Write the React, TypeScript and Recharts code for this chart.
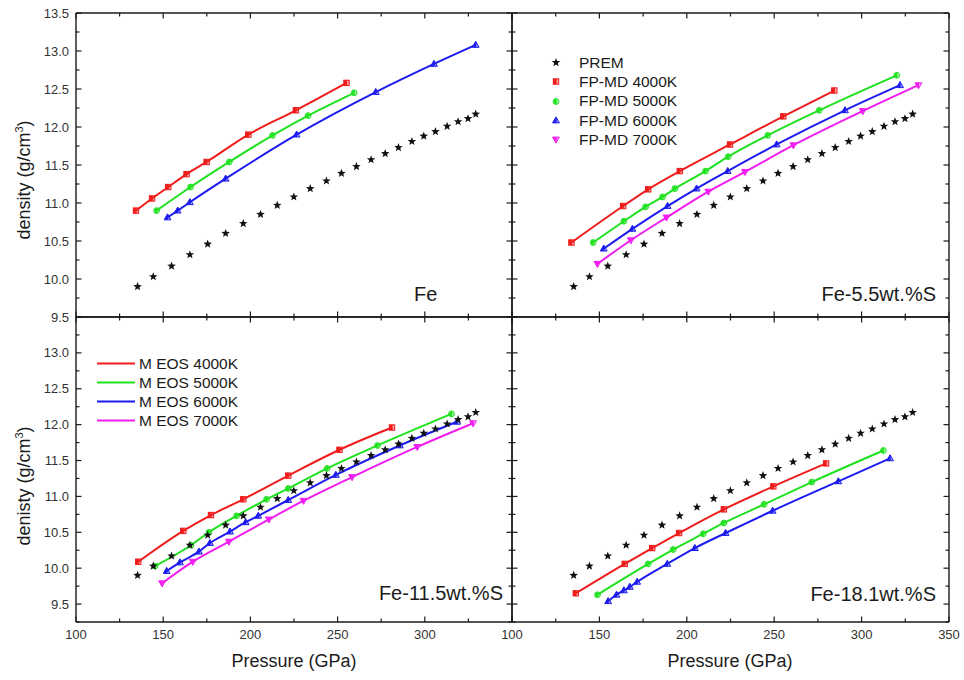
import React from 'react';
import { ComposedChart, Line, XAxis, YAxis, Legend, Customized } from 'recharts';

const W = 964;
const H = 680;
const FONT = '"Liberation Sans", Arial, Helvetica, sans-serif';
const INK = '#1b1b1b';

const RED = '#f01c1c';
const GREEN = '#1ee21e';
const BLUE = '#1c1cf0';
const MAGENTA = '#f01cf0';

// axes
const xTicks = [100, 125, 150, 175, 200, 225, 250, 275, 300, 325, 350];
const yTicksTop = [9.5, 9.75, 10, 10.25, 10.5, 10.75, 11, 11.25, 11.5, 11.75, 12, 12.25, 12.5, 12.75, 13, 13.25, 13.5];
const yTicksBottom = [9.25, 9.5, 9.75, 10, 10.25, 10.5, 10.75, 11, 11.25, 11.5, 11.75, 12, 12.25, 12.5, 12.75, 13, 13.25, 13.5];

// PREM outer core (same in every panel)
const premP = [135.3, 144.3, 154.8, 165.3, 175.5, 185.8, 195.9, 205.8, 215.4, 224.9, 234.3, 243.6, 252.2, 260.8, 269.2, 277.3, 284.9, 292.6, 299.4, 306.1, 312.8, 319.1, 324.8, 329.2];
const premD = [9.9, 10.03, 10.17, 10.32, 10.46, 10.6, 10.73, 10.85, 10.97, 11.08, 11.19, 11.29, 11.39, 11.48, 11.57, 11.65, 11.73, 11.81, 11.88, 11.94, 12.01, 12.07, 12.11, 12.17];

// Fe
const fe4000P = [134.4, 143.6, 152.9, 163.4, 174.9, 198.8, 226.1, 255.1];
const fe4000D = [10.9, 11.06, 11.21, 11.38, 11.54, 11.9, 12.22, 12.58];
const fe5000P = [146.2, 165.7, 187.9, 212.7, 233.1, 259.5];
const fe5000D = [10.9, 11.21, 11.54, 11.89, 12.15, 12.45];
const fe6000P = [152.5, 158.3, 165.3, 185.8, 226.5, 271.9, 305.3, 329.2];
const fe6000D = [10.81, 10.9, 11.01, 11.32, 11.9, 12.46, 12.83, 13.08];

// Fe-5.5wt.%S
const s55_4000P = [134.0, 163.6, 177.9, 196.0, 224.7, 255.2, 284.4];
const s55_4000D = [10.48, 10.96, 11.18, 11.42, 11.77, 12.14, 12.48];
const s55_5000P = [146.4, 164.0, 176.4, 186.1, 193.2, 210.7, 223.7, 246.3, 275.8, 320.1];
const s55_5000D = [10.48, 10.76, 10.95, 11.08, 11.19, 11.42, 11.61, 11.89, 12.22, 12.68];
const s55_6000P = [152.5, 168.9, 189.0, 205.6, 223.4, 251.4, 290.5, 322.0];
const s55_6000D = [10.4, 10.66, 10.96, 11.19, 11.42, 11.77, 12.22, 12.55];
const s55_7000P = [148.9, 168.0, 188.4, 212.3, 233.3, 261.0, 300.7, 332.5];
const s55_7000D = [10.2, 10.51, 10.81, 11.15, 11.41, 11.76, 12.21, 12.55];

// Fe-11.5wt.%S
const s115_4000P = [135.7, 161.5, 177.4, 195.9, 221.7, 251.1, 281.2];
const s115_4000D = [10.09, 10.52, 10.74, 10.96, 11.29, 11.65, 11.96];
const s115_5000P = [145.3, 165.9, 176.2, 192.1, 209.3, 221.7, 244.0, 272.9, 315.3];
const s115_5000D = [10.03, 10.32, 10.5, 10.73, 10.96, 11.11, 11.39, 11.71, 12.15];
const s115_6000P = [152.0, 159.6, 170.5, 176.8, 188.3, 197.3, 204.5, 221.7, 249.0, 285.7, 318.5];
const s115_6000D = [9.96, 10.08, 10.23, 10.35, 10.51, 10.64, 10.73, 10.95, 11.3, 11.71, 12.04];
const s115_7000P = [149.4, 167.0, 187.7, 210.6, 230.5, 258.3, 295.7, 327.7];
const s115_7000D = [9.79, 10.09, 10.37, 10.68, 10.94, 11.27, 11.69, 12.02];

// Fe-18.1wt.%S
const s181_4000P = [136.5, 164.5, 180.2, 195.6, 221.2, 249.5, 279.7];
const s181_4000D = [9.65, 10.06, 10.28, 10.49, 10.82, 11.14, 11.46];
const s181_5000P = [148.9, 177.9, 192.2, 209.4, 221.2, 244.2, 271.5, 312.5];
const s181_5000D = [9.63, 10.06, 10.26, 10.48, 10.63, 10.89, 11.2, 11.64];
const s181_6000P = [155.0, 159.8, 164.0, 167.4, 171.6, 188.8, 204.6, 222.2, 249.1, 286.7, 316.3];
const s181_6000D = [9.54, 9.63, 9.69, 9.74, 9.81, 10.06, 10.28, 10.49, 10.8, 11.21, 11.53];

const fpLabels = ['PREM', 'FP-MD 4000K', 'FP-MD 5000K', 'FP-MD 6000K', 'FP-MD 7000K'];
const eosLabels = ['M EOS 4000K', 'M EOS 5000K', 'M EOS 6000K', 'M EOS 7000K'];

type Pt = { p: number; d: number };
type Kind = 'square' | 'circle' | 'up' | 'down' | 'star';

const pts = (p: number[], d: number[]): Pt[] => p.map((v, i) => ({ p: v, d: d[i] }));

const prem = pts(premP, premD);

const MK: { kind: Kind; color: string }[] = [
  { kind: 'square', color: RED },
  { kind: 'circle', color: GREEN },
  { kind: 'up', color: BLUE },
  { kind: 'down', color: MAGENTA },
];

function starPath(cx: number, cy: number, R = 4.5, r = 1.9) {
  let d = '';
  for (let i = 0; i < 10; i++) {
    const a = -Math.PI / 2 + (i * Math.PI) / 5;
    const rr = i % 2 ? r : R;
    d += (i ? 'L' : 'M') + (cx + rr * Math.cos(a)).toFixed(2) + ',' + (cy + rr * Math.sin(a)).toFixed(2);
  }
  return d + 'Z';
}

// Origin-style half-filled markers: solid left half, pale right half
function Marker({ kind, cx, cy, color }: { kind: Kind; cx: number; cy: number; color: string }) {
  const s = 2.7;
  const pale = { fill: color, fillOpacity: 0.4 };
  if (kind === 'star') return <path d={starPath(cx, cy)} fill="#111" />;
  if (kind === 'square')
    return (
      <g>
        <rect x={cx - s} y={cy - s} width={2 * s} height={2 * s} {...pale} stroke={color} strokeWidth={1} />
        <rect x={cx - s} y={cy - s} width={s + 0.6} height={2 * s} fill={color} />
      </g>
    );
  if (kind === 'circle')
    return (
      <g>
        <circle cx={cx} cy={cy} r={s + 0.2} {...pale} stroke={color} strokeWidth={1} />
        <path d={`M${cx + 0.6},${cy - s} A${s},${s} 0 1 0 ${cx + 0.6},${cy + s} Z`} fill={color} />
      </g>
    );
  if (kind === 'up')
    return (
      <g>
        <polygon points={`${cx},${cy - 3.6} ${cx - 3.4},${cy + 2.4} ${cx + 3.4},${cy + 2.4}`} {...pale} stroke={color} strokeWidth={1} />
        <polygon points={`${cx},${cy - 3.6} ${cx - 3.4},${cy + 2.4} ${cx + 0.6},${cy + 2.4} ${cx + 0.6},${cy - 2.6}`} fill={color} />
      </g>
    );
  return (
    <g>
      <polygon points={`${cx - 3.4},${cy - 2.4} ${cx + 3.4},${cy - 2.4} ${cx},${cy + 3.6}`} {...pale} stroke={color} strokeWidth={1} />
      <polygon points={`${cx - 3.4},${cy - 2.4} ${cx + 0.6},${cy - 2.4} ${cx + 0.6},${cy + 2.6} ${cx},${cy + 3.6}`} fill={color} />
    </g>
  );
}

// ticks point inward; labels outside
const M = 8;
const isMajorX = (v: number) => v % 50 === 0;
const isMajorY = (v: number) => Math.abs(v * 2 - Math.round(v * 2)) < 1e-6;

function tickFactory(side: 'left' | 'right' | 'top' | 'bottom', labelMax: number | null) {
  const horiz = side === 'top' || side === 'bottom';
  return (props: any) => {
    const { x, y, payload } = props;
    const v: number = payload.value;
    const major = horiz ? isMajorX(v) : isMajorY(v);
    const len = major ? 5.5 : 3.5;
    const label = major && labelMax !== null && v <= labelMax + 1e-6;
    let line;
    let ax = x;
    let ay = y;
    if (side === 'left') {
      ax = x + M;
      line = <line x1={ax} x2={ax + len} y1={y} y2={y} />;
    } else if (side === 'right') {
      ax = x - M;
      line = <line x1={ax} x2={ax - len} y1={y} y2={y} />;
    } else if (side === 'top') {
      ay = y + M;
      line = <line x1={x} x2={x} y1={ay} y2={ay + len} />;
    } else {
      ay = y - M;
      line = <line x1={x} x2={x} y1={ay} y2={ay - len} />;
    }
    return (
      <g>
        <g stroke={INK} strokeWidth={1.2}>{line}</g>
        {label && side === 'left' && (
          <text x={ax - 7} y={y} dy="0.35em" textAnchor="end" fontSize={13} fill="#333">{v.toFixed(1)}</text>
        )}
        {label && side === 'bottom' && (
          <text x={x} y={ay + 8} dy="0.71em" textAnchor="middle" fontSize={13} fill="#333">{v}</text>
        )}
      </g>
    );
  };
}

const AXIS_LINE = { stroke: INK, strokeWidth: 1.4 };

function FpLegend() {
  const kinds: { kind: Kind; color: string }[] = [{ kind: 'star', color: '#111' }, ...MK];
  return (
    <div style={{ fontSize: 15.5, color: INK, fontFamily: FONT }}>
      {fpLabels.map((name, i) => (
        <div key={name} style={{ display: 'flex', alignItems: 'center', height: 19.3 }}>
          <svg width={16} height={19} style={{ display: 'block' }}>
            <Marker kind={kinds[i].kind} cx={8} cy={9.5} color={kinds[i].color} />
          </svg>
          <span style={{ marginLeft: 15 }}>{name}</span>
        </div>
      ))}
    </div>
  );
}

function EosLegend() {
  return (
    <div style={{ fontSize: 15.5, color: INK, fontFamily: FONT }}>
      {eosLabels.map((name, i) => (
        <div key={name} style={{ display: 'flex', alignItems: 'center', height: 18.9 }}>
          <svg width={40} height={19} style={{ display: 'block' }}>
            <line x1={1} x2={39} y1={9.5} y2={9.5} stroke={MK[i].color} strokeWidth={2} />
          </svg>
          <span style={{ marginLeft: 3 }}>{name}</span>
        </div>
      ))}
    </div>
  );
}

function YTitle({ x, y, text }: { x: number; y: number; text: string }) {
  return (
    <text transform={`translate(${x},${y}) rotate(-90)`} textAnchor="middle" fontSize={18} fill={INK}>
      {text} (g/cm<tspan dy={-7} fontSize={11}>3</tspan><tspan dy={7}>)</tspan>
    </text>
  );
}

type PanelProps = {
  rect: [number, number, number, number];
  yDomain: [number, number];
  yTicks: number[];
  yLabelMax: number | null;
  xLabelMax: number | null;
  series: Pt[][];
  overlay: () => React.ReactElement;
  legend?: { left: number; top: number; content: () => React.ReactElement };
};

function Panel({ rect, yDomain, yTicks, yLabelMax, xLabelMax, series, overlay, legend }: PanelProps) {
  const [px, py, pw, ph] = rect;
  const margin = { left: px - 40, top: py - 10, right: W - px - pw - 10, bottom: H - py - ph - 30 };
  return (
    <div style={{ position: 'absolute', left: 0, top: 0 }}>
      <ComposedChart width={W} height={H} margin={margin}>
        <XAxis xAxisId={0} type="number" dataKey="p" domain={[100, 350]} allowDataOverflow ticks={xTicks} interval={0}
          height={30} orientation="bottom" tickSize={0} tickMargin={M} tickLine={false} axisLine={AXIS_LINE}
          tick={tickFactory('bottom', xLabelMax)} />
        <XAxis xAxisId="top" type="number" dataKey="p" domain={[100, 350]} allowDataOverflow ticks={xTicks} interval={0}
          height={10} orientation="top" tickSize={0} tickMargin={M} tickLine={false} axisLine={AXIS_LINE}
          tick={tickFactory('top', null)} />
        <YAxis yAxisId={0} type="number" domain={yDomain} allowDataOverflow ticks={yTicks} interval={0}
          width={40} orientation="left" tickSize={0} tickMargin={M} tickLine={false} axisLine={AXIS_LINE}
          tick={tickFactory('left', yLabelMax)} />
        <YAxis yAxisId="right" type="number" domain={yDomain} allowDataOverflow ticks={yTicks} interval={0}
          width={10} orientation="right" tickSize={0} tickMargin={M} tickLine={false} axisLine={AXIS_LINE}
          tick={tickFactory('right', null)} />
        {series.map((data, i) => (
          <Line key={i} data={data} dataKey="d" type="monotone" stroke={MK[i].color} strokeWidth={2}
            isAnimationActive={false} activeDot={false} legendType="none"
            dot={(dp: any) => <Marker key={dp.index} kind={MK[i].kind} cx={dp.cx} cy={dp.cy} color={MK[i].color} />} />
        ))}
        <Line data={prem} dataKey="d" stroke="none" isAnimationActive={false} activeDot={false} legendType="none"
          dot={(dp: any) => <Marker key={dp.index} kind="star" cx={dp.cx} cy={dp.cy} color="#111" />} />
        <Customized component={overlay} />
        {legend && (
          <Legend layout="vertical" align="center" verticalAlign="middle" content={legend.content}
            wrapperStyle={{ left: legend.left, top: legend.top, width: 180, height: 'auto' }} />
        )}
      </ComposedChart>
    </div>
  );
}

export default function App() {
  return (
    <div style={{ position: 'absolute', left: 0, top: 0, width: W, height: H, background: '#fff', fontFamily: FONT, overflow: 'hidden' }}>
      <Panel
        rect={[76, 13, 436, 304]}
        yDomain={[9.5, 13.5]}
        yTicks={yTicksTop}
        yLabelMax={13.5}
        xLabelMax={null}
        series={[pts(fe4000P, fe4000D), pts(fe5000P, fe5000D), pts(fe6000P, fe6000D)]}
        overlay={() => (
          <g fill={INK}>
            <YTitle x={29.5} y={180} text="density" />
            <text x={414} y={301} fontSize={20}>Fe</text>
          </g>
        )}
      />
      <Panel
        rect={[512, 13, 437, 304]}
        yDomain={[9.5, 13.5]}
        yTicks={yTicksTop}
        yLabelMax={null}
        xLabelMax={null}
        series={[pts(s55_4000P, s55_4000D), pts(s55_5000P, s55_5000D), pts(s55_6000P, s55_6000D), pts(s55_7000P, s55_7000D)]}
        overlay={() => (
          <text x={936} y={301} fontSize={20} textAnchor="end" fill={INK}>Fe-5.5wt.%S</text>
        )}
        legend={{ left: 548, top: 53, content: () => <FpLegend /> }}
      />
      <Panel
        rect={[76, 317, 436, 305]}
        yDomain={[9.25, 13.5]}
        yTicks={yTicksBottom}
        yLabelMax={13.0}
        xLabelMax={300}
        series={[pts(s115_4000P, s115_4000D), pts(s115_5000P, s115_5000D), pts(s115_6000P, s115_6000D), pts(s115_7000P, s115_7000D)]}
        overlay={() => (
          <g fill={INK}>
            <YTitle x={29.5} y={486} text="denisty" />
            <text x={294} y={667} fontSize={18} textAnchor="middle">Pressure (GPa)</text>
            <text x={503} y={600} fontSize={20} textAnchor="end">Fe-11.5wt.%S</text>
          </g>
        )}
        legend={{ left: 96, top: 354.5, content: () => <EosLegend /> }}
      />
      <Panel
        rect={[512, 317, 437, 305]}
        yDomain={[9.25, 13.5]}
        yTicks={yTicksBottom}
        yLabelMax={null}
        xLabelMax={350}
        series={[pts(s181_4000P, s181_4000D), pts(s181_5000P, s181_5000D), pts(s181_6000P, s181_6000D)]}
        overlay={() => (
          <g fill={INK}>
            <text x={730} y={667} fontSize={18} textAnchor="middle">Pressure (GPa)</text>
            <text x={936} y={601} fontSize={20} textAnchor="end">Fe-18.1wt.%S</text>
          </g>
        )}
      />
    </div>
  );
}
